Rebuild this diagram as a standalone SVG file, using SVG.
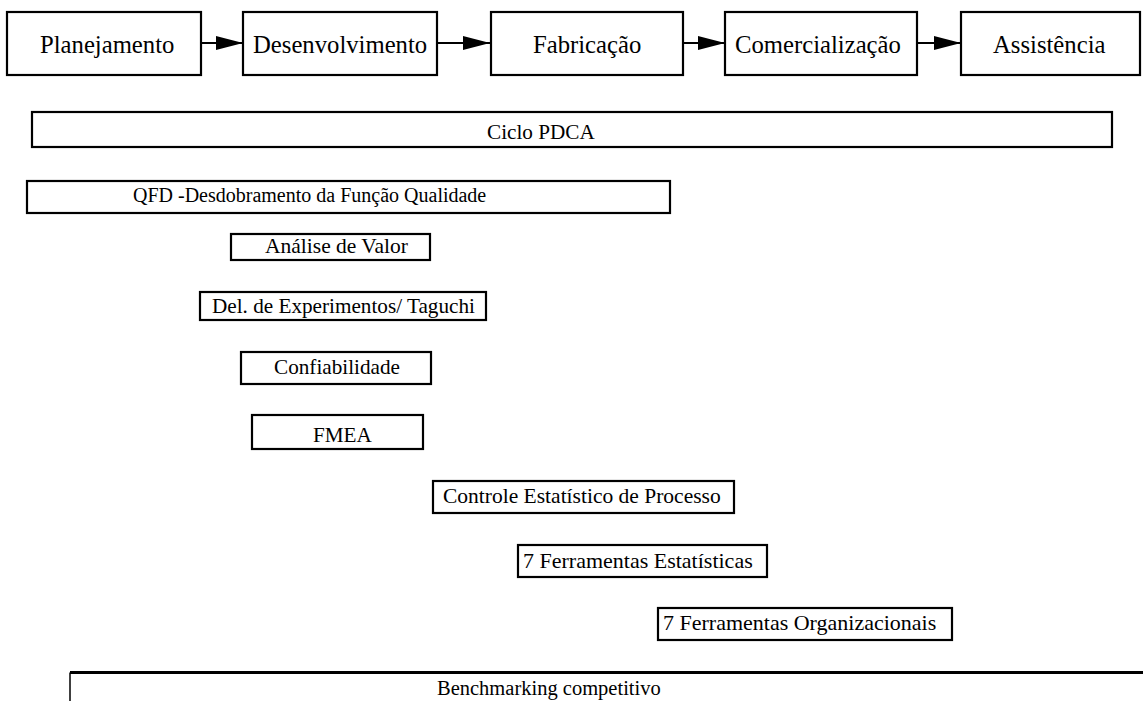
<svg xmlns="http://www.w3.org/2000/svg" width="1143" height="701" viewBox="0 0 1143 701">
<style>
  .box { fill: #ffffff; stroke: #000000; stroke-width: 2.2; }
  text { font-family: "Liberation Serif", "Times New Roman", Times, "DejaVu Serif", serif; fill: #000000; }
  .top { font-size: 24.7px; }
  .mid { font-size: 21.2px; }
  .conn { stroke: #000000; stroke-width: 2.2; fill: none; }
</style>
<defs>
  <marker id="arr" markerUnits="userSpaceOnUse" markerWidth="28" markerHeight="16" refX="27" refY="8" orient="auto">
    <path d="M0,1 L27,8 L0,15 z" fill="#000000"/>
  </marker>
</defs>
<rect width="1143" height="701" fill="#ffffff"/>

<g id="planejamento">
  <rect class="box" x="7" y="12" width="194" height="63"/>
  <text class="top" x="40" y="53" font-family="Liberation Serif, Times New Roman, DejaVu Serif, serif">Planejamento</text>
</g>
<g id="desenvolvimento">
  <rect class="box" x="243" y="12" width="194" height="63"/>
  <text class="top" x="253" y="53" font-family="Liberation Serif, Times New Roman, DejaVu Serif, serif">Desenvolvimento</text>
</g>
<g id="fabricacao">
  <rect class="box" x="491" y="12" width="192" height="63"/>
  <text class="top" x="533" y="53" font-family="Liberation Serif, Times New Roman, DejaVu Serif, serif">Fabricação</text>
</g>
<g id="comercializacao">
  <rect class="box" x="725" y="12" width="192" height="63"/>
  <text class="top" x="735" y="53" font-family="Liberation Serif, Times New Roman, DejaVu Serif, serif">Comercialização</text>
</g>
<g id="assistencia">
  <rect class="box" x="961" y="12" width="179" height="63"/>
  <text class="top" x="993" y="53" font-family="Liberation Serif, Times New Roman, DejaVu Serif, serif">Assistência</text>
</g>

<g id="connectors">
  <line class="conn" x1="201" y1="43" x2="243" y2="43" marker-end="url(#arr)"/>
  <line class="conn" x1="437" y1="43" x2="490" y2="43" marker-end="url(#arr)"/>
  <line class="conn" x1="683" y1="43" x2="725" y2="43" marker-end="url(#arr)"/>
  <line class="conn" x1="917" y1="43" x2="961" y2="43" marker-end="url(#arr)"/>
</g>

<g id="ciclo-pdca">
  <rect class="box" x="32" y="112" width="1080" height="35"/>
  <text x="487" y="139" font-size="21.2" font-family="Liberation Serif, Times New Roman, DejaVu Serif, serif">Ciclo PDCA</text>
</g>
<g id="qfd">
  <rect class="box" x="27" y="181" width="643" height="32"/>
  <text x="133" y="202" font-size="20" font-family="Liberation Serif, Times New Roman, DejaVu Serif, serif">QFD -Desdobramento da Função Qualidade</text>
</g>
<g id="analise-valor">
  <rect class="box" x="231" y="234" width="199" height="26"/>
  <text x="265" y="253" font-size="21.5" font-family="Liberation Serif, Times New Roman, DejaVu Serif, serif">Análise de Valor</text>
</g>
<g id="del-experimentos">
  <rect class="box" x="200" y="292" width="286" height="28"/>
  <text class="mid" x="212" y="313" font-family="Liberation Serif, Times New Roman, DejaVu Serif, serif">Del. de Experimentos/ Taguchi</text>
</g>
<g id="confiabilidade">
  <rect class="box" x="241" y="352" width="190" height="32"/>
  <text class="mid" x="274" y="374" font-family="Liberation Serif, Times New Roman, DejaVu Serif, serif">Confiabilidade</text>
</g>
<g id="fmea">
  <rect class="box" x="252" y="415" width="171" height="34"/>
  <text class="mid" x="313" y="442" font-family="Liberation Serif, Times New Roman, DejaVu Serif, serif">FMEA</text>
</g>
<g id="cep">
  <rect class="box" x="433" y="481" width="301" height="32"/>
  <text x="443" y="503" font-size="21.5" font-family="Liberation Serif, Times New Roman, DejaVu Serif, serif">Controle Estatístico de Processo</text>
</g>
<g id="ferramentas-estatisticas">
  <rect class="box" x="518" y="545" width="249" height="32"/>
  <text x="523" y="568" font-size="22" font-family="Liberation Serif, Times New Roman, DejaVu Serif, serif">7 Ferramentas Estatísticas</text>
</g>
<g id="ferramentas-organizacionais">
  <rect class="box" x="658" y="608" width="294" height="32"/>
  <text x="663" y="630" font-size="22" font-family="Liberation Serif, Times New Roman, DejaVu Serif, serif">7 Ferramentas Organizacionais</text>
</g>
<g id="benchmarking">
  <path d="M70,701 V672.5" stroke="#000000" stroke-width="1.5" fill="none"/>
  <path d="M70,672.5 H1143" stroke="#000000" stroke-width="3.2" fill="none"/>
  <text x="437" y="695" font-size="20.5" font-family="Liberation Serif, Times New Roman, DejaVu Serif, serif">Benchmarking competitivo</text>
</g>
</svg>
